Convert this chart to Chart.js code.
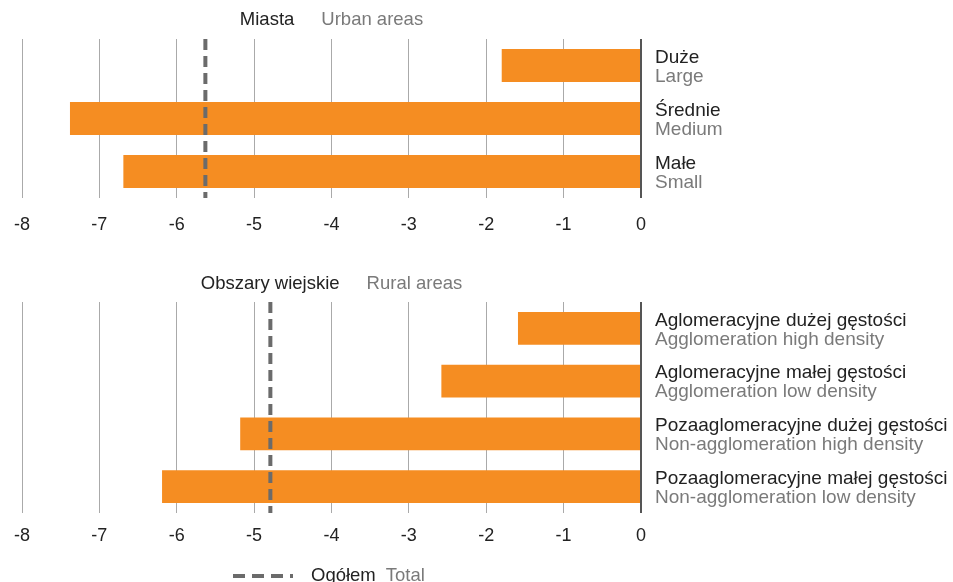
<!DOCTYPE html>
<html>
<head>
<meta charset="utf-8">
<script src="https://cdn.jsdelivr.net/npm/chart.js@4"></script>
<style>
  html, body { margin: 0; padding: 0; background: #fff; }
  #wrap { position: relative; width: 953px; height: 582px; overflow: hidden; }
  canvas { position: absolute; left: 0; }
  #urbanChart { top: 0; }
  #ruralChart { top: 250px; }
</style>
</head>
<body>
<div id="wrap">
  <canvas id="urbanChart" width="953" height="250"></canvas>
  <canvas id="ruralChart" width="953" height="332"></canvas>
</div>
<script>
// Data
const urbanLabels = ['Duże', 'Średnie', 'Małe'];
const urbanLabelsEn = ['Large', 'Medium', 'Small'];
const urbanValues = [-1.8, -7.38, -6.69];
const urbanTotal = -5.63;

const ruralLabels = ['Aglomeracyjne dużej gęstości', 'Aglomeracyjne małej gęstości',
    'Pozaaglomeracyjne dużej gęstości', 'Pozaaglomeracyjne małej gęstości'];
const ruralLabelsEn = ['Agglomeration high density', 'Agglomeration low density',
    'Non-agglomeration high density', 'Non-agglomeration low density'];
const ruralValues = [-1.59, -2.58, -5.18, -6.19];
const ruralTotal = -4.79;

const FONT = '"Liberation Sans", Arial, sans-serif';
const DARK = '#222222';
const GREY = '#7a7a7a';
const ORANGE = '#F58D22';
const DASH = '#6b6b6b';

// Draws the two-colour title, right-hand labels, dashed total line and legend
const decorPlugin = {
    id: 'decor',
    afterDatasetsDraw(chart, args, opts) {
        const ctx = chart.ctx;
        const area = chart.chartArea;
        const xs = chart.scales.x;
        const ys = chart.scales.y;
        ctx.save();

        // dashed total line
        const tx = xs.getPixelForValue(opts.total);
        ctx.strokeStyle = DASH;
        ctx.lineWidth = 4;
        ctx.setLineDash([11, 6]);
        ctx.lineCap = 'butt';
        ctx.beginPath();
        ctx.moveTo(tx, area.top);
        ctx.lineTo(tx, area.bottom);
        ctx.stroke();
        ctx.setLineDash([]);

        // category labels on the right
        ctx.font = '19px ' + FONT;
        ctx.textAlign = 'left';
        ctx.textBaseline = 'middle';
        chart.data.labels.forEach((lab, i) => {
            const y = ys.getPixelForValue(i);
            ctx.fillStyle = DARK;
            ctx.fillText(lab, area.right + 14, y - 8);
            ctx.fillStyle = GREY;
            ctx.fillText(opts.labelsEn[i], area.right + 14, y + 11);
        });

        // title
        ctx.font = '18.5px ' + FONT;
        const gap = 27;
        const w1 = ctx.measureText(opts.title[0]).width;
        const w2 = ctx.measureText(opts.title[1]).width;
        let x0 = (area.left + area.right) / 2 - (w1 + gap + w2) / 2;
        ctx.fillStyle = DARK;
        ctx.fillText(opts.title[0], x0, area.top - opts.titleOffset);
        ctx.fillStyle = GREY;
        ctx.fillText(opts.title[1], x0 + w1 + gap, area.top - opts.titleOffset);

        // legend
        if (opts.legend) {
            const ly = area.bottom + 63;
            const lx = 233;
            ctx.strokeStyle = DASH;
            ctx.lineWidth = 4;
            ctx.setLineDash([12, 7]);
            ctx.beginPath();
            ctx.moveTo(lx, ly);
            ctx.lineTo(lx + 60, ly);
            ctx.stroke();
            ctx.setLineDash([]);
            ctx.fillStyle = DARK;
            ctx.fillText('Ogółem', lx + 78, ly);
            const wo = ctx.measureText('Ogółem').width;
            ctx.fillStyle = GREY;
            ctx.fillText('Total', lx + 78 + wo + 10, ly);
        }
        ctx.restore();
    }
};

function makeChart(id, labels, values, labelsEn, total, title, legend, padTop, padBottom, tickPad, titleOffset) {
    return new Chart(document.getElementById(id), {
        type: 'bar',
        data: {
            labels: labels,
            datasets: [{
                data: values,
                backgroundColor: ORANGE,
                borderWidth: 0,
                barPercentage: 0.62,
                categoryPercentage: 1.0
            }]
        },
        plugins: [decorPlugin],
        options: {
            indexAxis: 'y',
            responsive: false,
            animation: false,
            events: [],
            layout: {
                padding: { left: 22, right: 312, top: padTop, bottom: padBottom }
            },
            plugins: {
                legend: { display: false },
                tooltip: { enabled: false },
                decor: { labelsEn: labelsEn, total: total, title: title, legend: legend, titleOffset: titleOffset }
            },
            scales: {
                x: {
                    min: -8,
                    max: 0,
                    afterFit: (scale) => {
                        scale.height = 40;
                        scale.paddingLeft = 0;
                        scale.paddingRight = 0;
                    },
                    border: { display: false },
                    grid: {
                        drawTicks: false,
                        color: (c) => c.tick && c.tick.value === 0 ? '#555555' : '#aaaaaa',
                        lineWidth: (c) => c.tick && c.tick.value === 0 ? 2 : 1
                    },
                    ticks: {
                        stepSize: 1,
                        padding: tickPad,
                        color: DARK,
                        font: { size: 18, family: FONT }
                    }
                },
                y: {
                    display: false
                }
            }
        }
    });
}

makeChart('urbanChart', urbanLabels, urbanValues, urbanLabelsEn, urbanTotal,
    ['Miasta', 'Urban areas'], false, 39, 12, 16, 19);
makeChart('ruralChart', ruralLabels, ruralValues, ruralLabelsEn, ruralTotal,
    ['Obszary wiejskie', 'Rural areas'], true, 52, 29, 12, 18);
</script>
</body>
</html>
